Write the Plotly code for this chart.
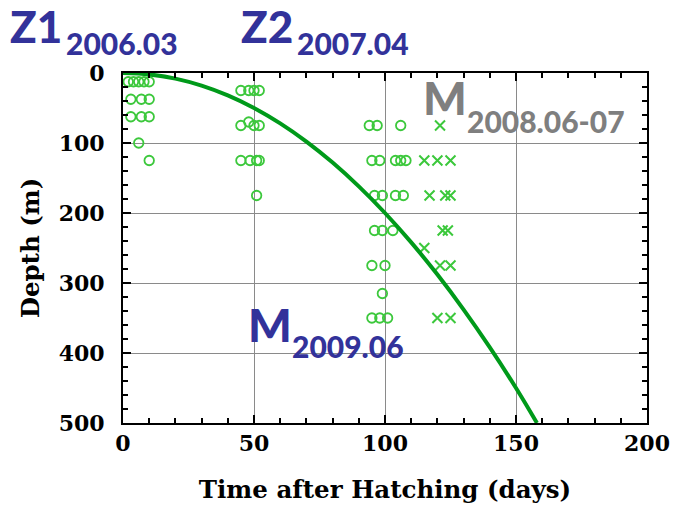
import plotly.graph_objects as go

# Fitted growth curve: depth vs. days after hatching (read at 10-day steps)
curve_days = [0, 10, 20, 30, 40, 50, 60, 70, 80, 90, 100, 110, 120, 130, 140, 150, 158]
curve_depth = [0, 2, 8, 18, 32, 50, 72, 98, 128, 162, 200, 242, 288, 338, 392, 450, 500]

# Open-circle observations (days, depth)
circ_days = [2, 4, 6, 8, 10, 3, 7, 10, 3, 7, 10, 6, 10,
             45, 48, 50, 52, 45, 48, 50, 52, 45, 48.5, 51, 52, 51,
             94, 97, 106, 95, 98, 104, 106, 108, 96, 99, 104, 107,
             96, 99, 103, 95, 100, 99, 95, 98, 101]
circ_depth = [12.5, 12.5, 12.5, 12.5, 12.5, 37.5, 37.5, 37.5, 62.5, 62.5, 62.5, 100, 125,
              25, 25, 25, 25, 75, 70, 75, 75, 125, 125, 125, 125, 175,
              75, 75, 75, 125, 125, 125, 125, 125, 175, 175, 175, 175,
              225, 225, 225, 275, 275, 315, 350, 350, 350]

# Cross observations (days, depth)
cross_days = [121, 115, 120, 125, 117, 123, 125, 122, 124, 115, 121, 125, 120, 125]
cross_depth = [75, 125, 125, 125, 175, 175, 175, 225, 225, 250, 275, 275, 350, 350]

x_ticks = [0, 50, 100, 150, 200]
y_ticks = [0, 100, 200, 300, 400, 500]

GREEN_MARK = "#3cc83c"
GREEN_LINE = "#009a1a"
BLUE = "#32329a"
GRAY = "#7f7f7f"
SERIF = "DejaVu Serif"
SANS = "Lato"

# Plot-area box in pixels (used to place the survey labels)
L, R, T, B = 123, 647, 73, 423

fig = go.Figure()
fig.add_trace(go.Scatter(
    x=circ_days, y=circ_depth, mode="markers",
    marker=dict(symbol="circle-open", size=9.5, color=GREEN_MARK, line=dict(width=1.8, color=GREEN_MARK)),
    hoverinfo="skip", showlegend=False))
fig.add_trace(go.Scatter(
    x=cross_days, y=cross_depth, mode="markers",
    marker=dict(symbol="x-thin-open", size=10, color=GREEN_MARK, line=dict(width=2, color=GREEN_MARK)),
    hoverinfo="skip", showlegend=False))
fig.add_trace(go.Scatter(
    x=curve_days, y=curve_depth, mode="lines",
    line=dict(color=GREEN_LINE, width=4, shape="spline"),
    hoverinfo="skip", showlegend=False))

axis_common = dict(
    showline=True, linecolor="black", linewidth=2, mirror="allticks",
    ticks="inside", ticklen=8, tickwidth=1.5, tickcolor="black",
    showgrid=True, gridcolor="#8a8a8a", gridwidth=1, zeroline=False,
    automargin=False,
    tickfont=dict(family=SERIF, size=22, color="black", weight="bold"),
)

fig.update_xaxes(
    range=[0, 200], tickvals=x_ticks, ticktext=[str(v) for v in x_ticks],
    minor=dict(dtick=10, ticks="inside", ticklen=5, tickwidth=1.5, tickcolor="black", showgrid=False),
    title=dict(text="Time after Hatching (days)",
               font=dict(family=SERIF, size=24.5, color="black", weight="bold"), standoff=25),
    **axis_common)
fig.update_yaxes(
    range=[500, 0], tickvals=y_ticks, ticktext=[str(v) for v in y_ticks],
    minor=dict(dtick=20, ticks="inside", ticklen=5, tickwidth=1.5, tickcolor="black", showgrid=False),
    ticklabelstandoff=12,
    title=dict(text="Depth (m)",
               font=dict(family=SERIF, size=24.5, color="black", weight="bold"), standoff=12),
    **axis_common)


def px_x(p):
    return (p - L) / float(R - L)


def px_y(p):
    return (B - p) / float(B - T)


def label(x_px, base_px, text, size, color):
    fig.add_annotation(x=px_x(x_px), y=px_y(base_px), xref="paper", yref="paper",
                       text=text, showarrow=False, xanchor="left", yanchor="bottom",
                       borderpad=0,
                       font=dict(family=SANS, size=size, color=color, weight=900))


# Survey labels with year.month subscripts
label(9, 53, "Z1", 44, BLUE)
label(65, 62, "2006.03", 30, BLUE)
label(240, 53, "Z2", 44, BLUE)
label(296, 62, "2007.04", 30, BLUE)
label(422, 126, "M", 46, GRAY)
label(466, 140, "2008.06-07", 30, GRAY)
label(247, 353, "M", 46, BLUE)
label(291, 365, "2009.06", 30, BLUE)

fig.update_layout(
    width=679, height=505,
    margin=dict(l=L, r=679 - R, t=T, b=505 - B),
    paper_bgcolor="white", plot_bgcolor="white",
)

fig.write_html("out.html")
